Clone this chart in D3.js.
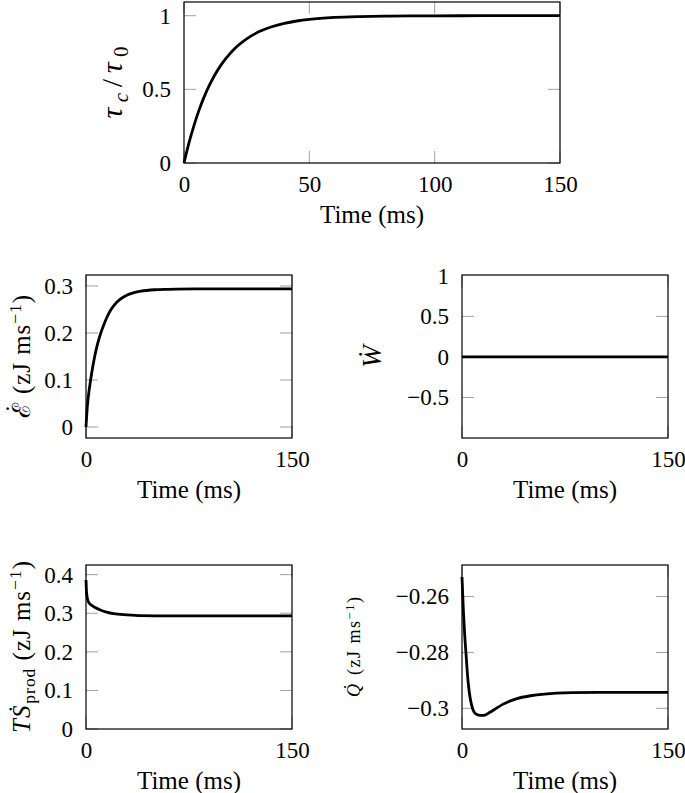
<!DOCTYPE html>
<html>
<head>
<meta charset="utf-8">
<script src="https://cdn.jsdelivr.net/npm/d3@7"></script>
<style>
  body { margin: 0; background: #fff; }
  svg { display: block; }
  text { font-family: "Liberation Serif", "DejaVu Serif", serif; fill: #000; }
</style>
</head>
<body>
<svg id="chart" width="685" height="793"></svg>
<script>
// coherence time ratio
const tauTime  = [0, 2, 4, 6, 8, 10, 12, 15, 18, 21, 25, 30, 35, 40, 45, 50, 60, 70, 80, 90, 100, 120, 150];
const tauRatio = [0, 0.138, 0.256, 0.359, 0.447, 0.523, 0.589, 0.671, 0.736, 0.789, 0.843, 0.892, 0.925, 0.948, 0.964, 0.975, 0.988, 0.994, 0.997, 0.999, 0.999, 1.0, 1.0];

// energy rate
const energyTime = [0, 1, 2, 3, 4, 6, 8, 10, 12, 15, 18, 21, 25, 30, 35, 40, 50, 60, 80, 100, 150];
const energyRate = [0, 0.045, 0.072, 0.093, 0.112, 0.145, 0.172, 0.193, 0.21, 0.232, 0.249, 0.261, 0.272, 0.281, 0.286, 0.289, 0.292, 0.293, 0.294, 0.294, 0.294];

// work rate
const workTime = [0, 150];
const workRate = [0, 0];

// entropy production
const entropyTime = [0, 0.3, 0.7, 1.2, 2, 4, 7, 10, 15, 20, 30, 40, 60, 150];
const entropyRate = [0.386, 0.36, 0.345, 0.335, 0.328, 0.321, 0.314, 0.309, 0.303, 0.299, 0.296, 0.294, 0.293, 0.293];

// heat rate
const heatTime = [0, 1, 2, 3, 4, 5, 6, 8, 10, 13, 16, 20, 25, 30, 40, 50, 60, 80, 100, 150];
const heatRate = [-0.253, -0.265, -0.274, -0.281, -0.288, -0.293, -0.2965, -0.3005, -0.302, -0.3025, -0.3025, -0.3015, -0.3, -0.2985, -0.2965, -0.2955, -0.2949, -0.2944, -0.2943, -0.2943];

const svg = d3.select("#chart");
const fmt = d3.format("~g");
const FONT = "'Liberation Serif', 'DejaVu Serif', serif";

function zip(xs, ys) {
    return xs.map((x, i) => ({t: x, v: ys[i]}));
}

// one framed panel
function drawPanel(p) {
    let x = d3.scaleLinear().domain([0, 150]).range([p.left, p.right]);
    let y = d3.scaleLinear().domain(p.yDomain).range([p.bottom, p.top]);
    let g = svg.append("g");

    // gray tick marks, mirrored on both sides
    let tl = 12;
    p.yTicks.forEach(function(t) {
        g.append("line").attr("x1", p.left).attr("x2", p.left + tl)
            .attr("y1", y(t)).attr("y2", y(t)).attr("stroke", "#a0a0a0");
        g.append("line").attr("x1", p.right).attr("x2", p.right - tl)
            .attr("y1", y(t)).attr("y2", y(t)).attr("stroke", "#a0a0a0");
    });
    p.xTicks.forEach(function(t) {
        g.append("line").attr("x1", x(t)).attr("x2", x(t))
            .attr("y1", p.bottom).attr("y2", p.bottom - tl).attr("stroke", "#a0a0a0");
        g.append("line").attr("x1", x(t)).attr("x2", x(t))
            .attr("y1", p.top).attr("y2", p.top + tl).attr("stroke", "#a0a0a0");
    });

    // data line
    g.append("path")
        .datum(zip(p.xs, p.ys))
        .attr("fill", "none")
        .attr("stroke", "#000")
        .attr("stroke-width", 2.8)
        .attr("stroke-linejoin", "round")
        .attr("d", d3.line().x(d => x(d.t)).y(d => y(d.v)).curve(d3.curveMonotoneX));

    // frame
    g.append("rect")
        .attr("x", p.left).attr("y", p.top)
        .attr("width", p.right - p.left).attr("height", p.bottom - p.top)
        .attr("fill", "none").attr("stroke", "#000").attr("stroke-width", 1.2);

    // tick labels
    let ax = g.append("g")
        .attr("transform", "translate(0," + p.bottom + ")")
        .call(d3.axisBottom(x).tickValues(p.xTicks).tickSize(0).tickPadding(13).tickFormat(fmt));
    ax.select(".domain").remove();
    let ay = g.append("g")
        .attr("transform", "translate(" + p.left + ",0)")
        .call(d3.axisLeft(y).tickValues(p.yTickLabels || p.yTicks).tickSize(0).tickPadding(13).tickFormat(fmt));
    ay.select(".domain").remove();
    g.selectAll(".tick text")
        .style("font-family", FONT)
        .style("font-size", "23px");

    // x label
    g.append("text")
        .attr("x", (p.left + p.right) / 2)
        .attr("y", p.bottom + 60)
        .attr("text-anchor", "middle")
        .style("font-size", "25px")
        .text("Time (ms)");

    // y label
    let size = p.labelSize || 25;
    let lab = g.append("text")
        .attr("transform", "translate(" + p.labelX + "," + ((p.top + p.bottom) / 2) + ") rotate(-90)")
        .attr("text-anchor", "middle")
        .style("font-size", size + "px");
    if (p.labelLength) lab.attr("textLength", p.labelLength).attr("lengthAdjust", "spacing");
    p.label(lab, size);
}

// letter with a dot above it; returns the shift back to the baseline
function dotted(lab, size, letter, w, lift, family) {
    let wd = 0.333 * size;
    let h = (lift || 0.16) * size;
    let s = lab.append("tspan").style("font-style", "italic").text(letter);
    if (family) s.style("font-family", family).style("font-style", "normal");
    let a = w / 2 + wd / 2 - 2;
    lab.append("tspan").attr("dx", -a).attr("dy", -h).text("˙");
    return {dx: a - wd, dy: h};
}

function units(lab, back, sup) {
    lab.append("tspan").attr("dx", back.dx).attr("dy", back.dy).text(" (zJ ms");
    lab.append("tspan").attr("dy", -sup).style("font-size", "0.7em").text("−1");
    lab.append("tspan").attr("dy", sup).text(")");
}

drawPanel({
    left: 184, right: 560, top: 2, bottom: 163,
    yDomain: [0, 1.093], xTicks: [0, 50, 100, 150], yTicks: [0, 0.5, 1],
    xs: tauTime, ys: tauRatio, labelX: 122, labelSize: 30, labelLength: 72,
    label: function(lab) {
        lab.append("tspan").style("font-style", "italic").text("τ");
        lab.append("tspan").attr("dy", 6).style("font-style", "italic").style("font-size", "0.7em").text("c");
        lab.append("tspan").attr("dy", -6).text("/");
        lab.append("tspan").style("font-style", "italic").text("τ");
        lab.append("tspan").attr("dy", 6).style("font-size", "0.7em").text("0");
    }
});

drawPanel({
    left: 86, right: 292, top: 275, bottom: 438,
    yDomain: [-0.0234, 0.3234], xTicks: [0, 150], yTicks: [0, 0.1, 0.2, 0.3],
    xs: energyTime, ys: energyRate, labelX: 30, labelLength: 123,
    label: function(lab, size) {
        let back = dotted(lab, size, "ℰ", 17, 0.3, "'DejaVu Serif'");
        units(lab, back, 9);
    }
});

drawPanel({
    left: 462, right: 668, top: 275, bottom: 438,
    yDomain: [-1, 1.01], xTicks: [0, 150], yTicks: [-0.5, 0, 0.5], yTickLabels: [-0.5, 0, 0.5, 1],
    xs: workTime, ys: workRate, labelX: 381, labelSize: 27,
    label: function(lab, size) {
        dotted(lab, size, "W", 22);
    }
});

drawPanel({
    left: 86, right: 292, top: 565, bottom: 729,
    yDomain: [0, 0.425], xTicks: [0, 150], yTicks: [0, 0.1, 0.2, 0.3, 0.4],
    xs: entropyTime, ys: entropyRate, labelX: 30, labelLength: 172,
    label: function(lab, size) {
        lab.append("tspan").style("font-style", "italic").text("T");
        let back = dotted(lab, size, "S", 13);
        lab.append("tspan").attr("dx", back.dx).attr("dy", back.dy + 5).style("font-size", "0.7em").text("prod");
        units(lab, {dx: 0, dy: -5}, 9);
    }
});

drawPanel({
    left: 462, right: 668, top: 565, bottom: 729,
    yDomain: [-0.3074, -0.2487], xTicks: [0, 150], yTicks: [-0.3, -0.28, -0.26],
    xs: heatTime, ys: heatRate, labelX: 360, labelSize: 18, labelLength: 100,
    label: function(lab, size) {
        let back = dotted(lab, size, "Q", 13);
        units(lab, back, 6);
    }
});
</script>
</body>
</html>
